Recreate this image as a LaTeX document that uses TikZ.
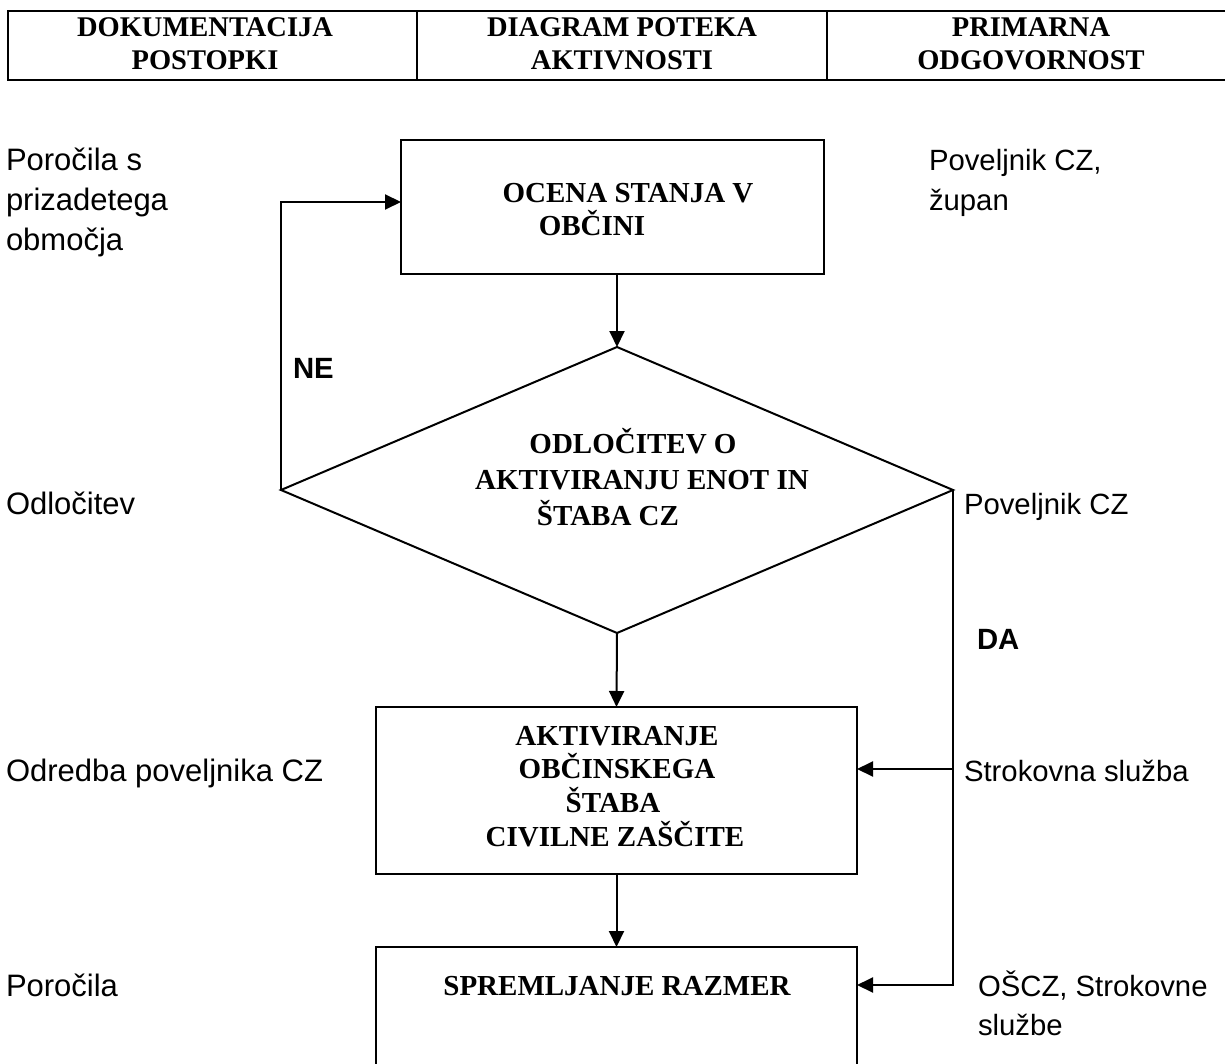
\documentclass[tikz,border=0pt]{standalone}
\usepackage{fontspec}
\setmainfont{Liberation Serif}
\newfontfamily\arialf{Liberation Sans}
\usetikzlibrary{shapes.geometric,arrows.meta}
\begin{document}
\begin{tikzpicture}[x=1pt,y=-1pt,
  line width=2pt,
  hdrcell/.style={draw,line width=2.4pt,rectangle,inner sep=0pt,outer sep=0pt,anchor=north west},
  procbox/.style={draw,rectangle,inner sep=0pt,outer sep=0pt},
  decbox/.style={draw,diamond,inner sep=0pt,outer sep=0pt},
  boxtxt/.style={inner sep=0pt,anchor=base,font=\fontsize{29}{33}\selectfont\bfseries},
  hdrtxt/.style={boxtxt,font=\fontsize{28.5}{33}\selectfont\bfseries},
  lbl/.style={inner sep=0pt,anchor=base west,font=\fontsize{29.3}{40}\selectfont\arialf},
  lbll/.style={lbl,font=\fontsize{31}{40}\selectfont\arialf},
  lblb/.style={lbl,font=\fontsize{29.3}{40}\selectfont\arialf\bfseries},
  arr/.style={-{Triangle[length=16pt,width=15pt]}}]
\clip (0,0) rectangle (1225,1064);
% header table
\node[hdrcell,minimum width=409pt,minimum height=69pt] (h1) at (8,11) {};
\node[hdrcell,minimum width=410pt,minimum height=69pt] (h2) at (417,11) {};
\node[hdrcell,minimum width=420pt,minimum height=69pt] (h3) at (827,11) {};
\node[hdrtxt] (h1a) at (205,37) {DOKUMENTACIJA};
\node[hdrtxt] (h1b) at (205,70) {POSTOPKI};
\node[hdrtxt] (h2a) at (622,37) {DIAGRAM POTEKA};
\node[hdrtxt] (h2b) at (622,70) {AKTIVNOSTI};
\node[hdrtxt] (h3a) at (1031,37) {PRIMARNA};
\node[hdrtxt] (h3b) at (1031,70) {ODGOVORNOST};
% shapes
\node[procbox,minimum width=423pt,minimum height=134pt] (b1) at (612.5,207) {};
\node[decbox,minimum width=672pt,minimum height=286pt] (dm) at (617,490) {};
\node[procbox,minimum width=481pt,minimum height=167pt] (b2) at (616.5,790.5) {};
\node[procbox,minimum width=481pt,minimum height=160pt] (b3) at (616.5,1027) {};
% box texts
\node[boxtxt] (t1a) at (628,203) {OCENA STANJA V};
\node[boxtxt] (t1b) at (592,236) {OBČINI};
\node[boxtxt] (t2a) at (633,453) {ODLOČITEV O};
\node[boxtxt] (t2b) at (642,489) {AKTIVIRANJU ENOT IN};
\node[boxtxt] (t2c) at (608,525) {ŠTABA CZ};
\node[boxtxt] (t3a) at (617,745) {AKTIVIRANJE};
\node[boxtxt] (t3b) at (617,778) {OBČINSKEGA};
\node[boxtxt] (t3c) at (613,812) {ŠTABA};
\node[boxtxt] (t3d) at (615,846) {CIVILNE ZAŠČITE};
\node[boxtxt] (t4a) at (617,995) {SPREMLJANJE RAZMER};
% connector points
\coordinate (k1) at (281,202);
\coordinate (k2) at (953,985);
\coordinate (k3) at (953,769);
% connectors
\draw[arr] (dm.north |- b1.south) -- (dm.north);
\draw[arr] (dm.west) -- (k1) -- (b1.west |- k1);
\draw[arr] (dm.south) -- (b2.north);
\draw[arr] (dm.east) -- (k2) -- (b3.east |- k2);
\draw[arr] (k3) -- (b2.east |- k3);
\draw[arr] (b2.south) -- (b3.north);
% left labels
\node[lbll] (l1a) at (5,171) {Poročila s};
\node[lbll] (l1b) at (5,211) {prizadetega};
\node[lbll] (l1c) at (5,251) {območja};
\node[lbll] (l2) at (5,514) {Odločitev};
\node[lbll] (l3) at (5,781) {Odredba poveljnika CZ};
\node[lbll] (l4) at (5,996) {Poročila};
\node[lblb] (ne) at (292,378) {NE};
% right labels
\node[lbl] (r1a) at (928,171) {Poveljnik CZ,};
\node[lbl] (r1b) at (928,211) {župan};
\node[lbl] (r2) at (963,514) {Poveljnik CZ};
\node[lblb] (da) at (976,649) {DA};
\node[lbl] (r3) at (963,781) {Strokovna služba};
\node[lbl] (r4a) at (977,996) {OŠCZ, Strokovne};
\node[lbl] (r4b) at (977,1035) {službe};
\end{tikzpicture}
\end{document}
